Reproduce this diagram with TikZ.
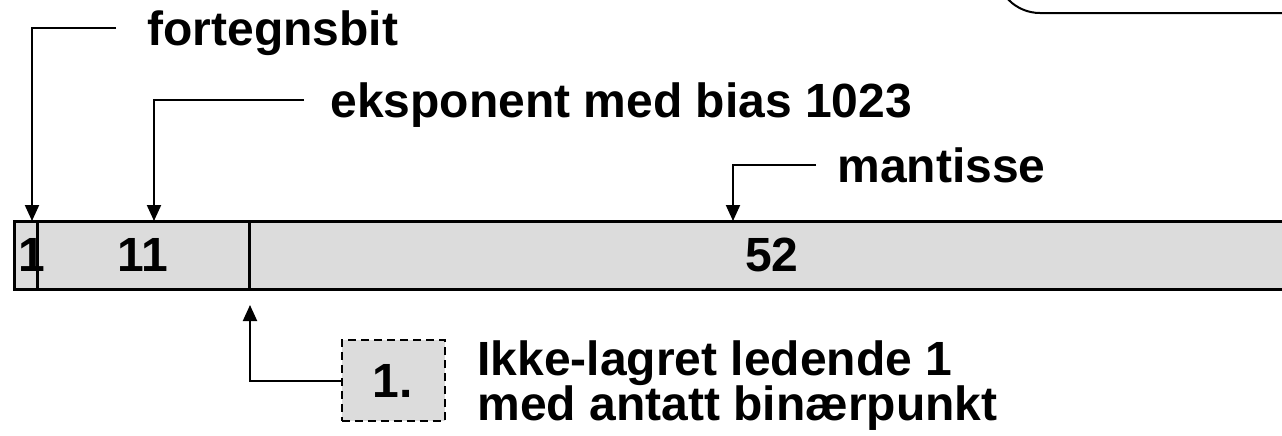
\documentclass[tikz,border=0pt]{standalone}
\usepackage{fontspec}
\setmainfont{Liberation Sans}
\usetikzlibrary{arrows.meta}
\definecolor{feltgraa}{RGB}{220,220,220}
\begin{document}
\begin{tikzpicture}[x=0.5pt,y=-0.5pt,
        font=\bfseries\fontsize{24}{28}\selectfont,
        pil/.style={line width=1pt,-{Triangle[width=7pt,length=8pt]}},
        etikett/.style={anchor=base west,inner sep=0pt}]
                \useasboundingbox (0,0) rectangle (1282,435);
                \begin{scope}
                \clip (0,0) rectangle (1282,435);
                \draw[line width=1pt,rounded corners=22pt] (996,-80) -- (996,13) -- (1300,13);
                \draw[fill=feltgraa,line width=1.5pt] (14,221) rectangle (1295,289);
                \end{scope}
                \node (f1) at (32,255) {1};
                \node (f11) at (143,255) {11};
                \node (f52) at (772,255) {52};
                \draw[line width=1.5pt] (37,221) -- (37,289);
                \draw[line width=1.5pt] (249,221) -- (249,289);
                \node[etikett] (fortegn) at (147,45) {fortegnsbit};
                \node[etikett] (eksp) at (330,117) {eksponent med bias 1023};
                \node[etikett] (mant) at (837,182) {mantisse};
                \coordinate (fS) at (116,28);
                \coordinate (fT) at (32,221);
                \coordinate (eS) at (304,100);
                \coordinate (eT) at (154,221);
                \coordinate (mS) at (816,165);
                \coordinate (mT) at (733,221);
                \coordinate (pT) at (250,305);
                \draw[pil] (fS) -| (fT);
                \draw[pil] (eS) -| (eT);
                \draw[pil] (mS) -| (mT);
                \node[draw,dashed,dash pattern=on 4pt off 2.5pt,line width=1pt,fill=feltgraa,
                      minimum width=51.5pt,minimum height=40.5pt] (en) at (393,380.5) {1.};
                \draw[pil] (en.west) -| (pT);
                \node[etikett] (tekst1) at (477,375) {Ikke-lagret ledende 1};
                \node[etikett] (tekst2) at (477,420) {med antatt binærpunkt};
            \end{tikzpicture}
\end{document}
